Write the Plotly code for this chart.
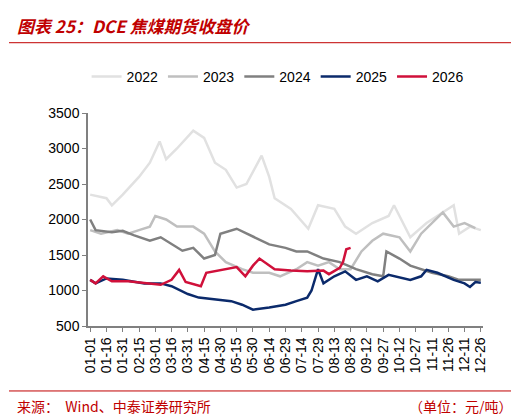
import plotly.graph_objects as go

# day-of-year (0 = 01-01) and closing price
days_2022 = [0, 15, 20, 30, 45, 55, 64, 70, 80, 95, 105, 115, 125, 135, 144, 158, 165, 170, 185, 201, 210, 225, 235, 245, 260, 275, 280, 295, 310, 325, 335, 340, 350, 360]
vals_2022 = [2350, 2300, 2200, 2350, 2600, 2800, 3100, 2850, 3000, 3250, 3150, 2800, 2700, 2450, 2500, 2900, 2600, 2300, 2150, 1870, 2200, 2150, 1900, 1800, 1950, 2050, 2200, 1750, 1950, 2100, 2200, 1800, 1900, 1850]

days_2023 = [0, 10, 25, 35, 45, 55, 60, 70, 80, 95, 105, 115, 125, 140, 150, 165, 175, 190, 200, 210, 220, 230, 240, 250, 260, 270, 285, 295, 305, 315, 325, 335, 345, 355]
vals_2023 = [1850, 1800, 1850, 1800, 1850, 1900, 2050, 2000, 1900, 1900, 1800, 1550, 1400, 1300, 1250, 1250, 1200, 1300, 1400, 1350, 1400, 1300, 1300, 1550, 1700, 1800, 1750, 1550, 1800, 1950, 2100, 1900, 1950, 1880]

days_2024 = [0, 5, 20, 30, 40, 55, 65, 75, 85, 95, 105, 115, 120, 135, 150, 165, 180, 190, 200, 215, 230, 245, 260, 270, 273, 285, 295, 305, 315, 330, 340, 350, 360]
vals_2024 = [2000, 1850, 1820, 1840, 1780, 1700, 1750, 1660, 1560, 1600, 1450, 1500, 1800, 1870, 1760, 1650, 1600, 1550, 1550, 1450, 1400, 1300, 1230, 1200, 1550, 1450, 1350, 1300, 1250, 1200, 1150, 1150, 1150]

days_2025 = [0, 5, 15, 30, 50, 65, 75, 90, 100, 115, 130, 140, 150, 165, 180, 190, 200, 204, 210, 215, 225, 235, 245, 255, 265, 275, 285, 295, 305, 310, 320, 335, 345, 350, 355, 360]
vals_2025 = [1150, 1100, 1170, 1150, 1100, 1100, 1060, 950, 900, 880, 850, 800, 730, 760, 800, 850, 900, 1000, 1300, 1100, 1200, 1270, 1150, 1200, 1130, 1220, 1180, 1150, 1200, 1290, 1250, 1150, 1100, 1050, 1120, 1110]

days_2026 = [0, 5, 12, 20, 35, 50, 65, 75, 82, 88, 102, 107, 125, 135, 143, 150, 156, 170, 185, 200, 215, 220, 230, 233, 236, 240]
vals_2026 = [1150, 1100, 1200, 1130, 1130, 1100, 1080, 1150, 1290, 1120, 1060, 1250, 1300, 1330, 1200, 1350, 1450, 1300, 1280, 1270, 1280, 1230, 1320, 1400, 1580, 1600]

tick_text = ['01-01', '01-16', '01-31', '02-15', '03-01', '03-16', '03-31', '04-15',
             '04-30', '05-15', '05-30', '06-14', '06-29', '07-14', '07-29', '08-13',
             '08-28', '09-12', '09-27', '10-12', '10-27', '11-11', '11-26', '12-11', '12-26']
tick_days = list(range(0, 15 * len(tick_text), 15))

series = [
    ('2022', days_2022, vals_2022, '#e1e1e1'),
    ('2023', days_2023, vals_2023, '#bfbfbf'),
    ('2024', days_2024, vals_2024, '#808080'),
    ('2025', days_2025, vals_2025, '#0b2a6b'),
    ('2026', days_2026, vals_2026, '#d0103a'),
]

fig = go.Figure()
for name, d, v, c in series:
    fig.add_trace(go.Scatter(x=d, y=v, name=name, mode='lines',
                             line=dict(color=c, width=2.5)))

fig.update_layout(
    width=519, height=414,
    paper_bgcolor='white', plot_bgcolor='white',
    margin=dict(l=80, r=44, t=105, b=96, autoexpand=False),
    font=dict(family='Liberation Sans, Arial', size=14, color='black'),
    legend=dict(orientation='h', x=0.48, xanchor='center', y=1.17, yanchor='middle',
                font=dict(size=14), itemwidth=30),
    xaxis=dict(range=[-2, 362], tickvals=tick_days, ticktext=tick_text, tickangle=-90,
               showgrid=False, showline=True, linecolor='#808080', linewidth=1.5,
               ticks='outside', tickcolor='#808080', ticklen=4, zeroline=False,
               tickfont=dict(size=14)),
    yaxis=dict(range=[500, 3500], dtick=500, showgrid=False, showline=True,
               linecolor='#808080', linewidth=1.5, ticks='outside', tickcolor='#808080',
               ticklen=4, zeroline=False, tickfont=dict(size=14)),
    shapes=[
        dict(type='line', xref='paper', yref='paper', x0=-0.2, x1=1.11, y0=1.33, y1=1.33,
             line=dict(color='#c00000', width=1)),
        dict(type='line', xref='paper', yref='paper', x0=-0.2, x1=1.11, y0=-0.305, y1=-0.305,
             line=dict(color='#c00000', width=1)),
    ],
    annotations=[
        dict(text='<b><i>图表 25：DCE 焦煤期货收盘价</i></b>', xref='paper', yref='paper',
             x=-0.185, y=1.41, xanchor='left', yanchor='middle', showarrow=False,
             font=dict(size=17, color='#c00000', family='Noto Sans CJK SC')),
        dict(text='来源：  Wind、中泰证券研究所', xref='paper', yref='paper',
             x=-0.185, y=-0.375, xanchor='left', yanchor='middle', showarrow=False,
             font=dict(size=14, color='#c00000', family='Noto Sans CJK SC')),
        dict(text='（单位：元/吨）', xref='paper', yref='paper',
             x=1.08, y=-0.375, xanchor='right', yanchor='middle', showarrow=False,
             font=dict(size=14, color='#c00000', family='Noto Sans CJK SC')),
    ],
)

fig.write_html("out.html")
